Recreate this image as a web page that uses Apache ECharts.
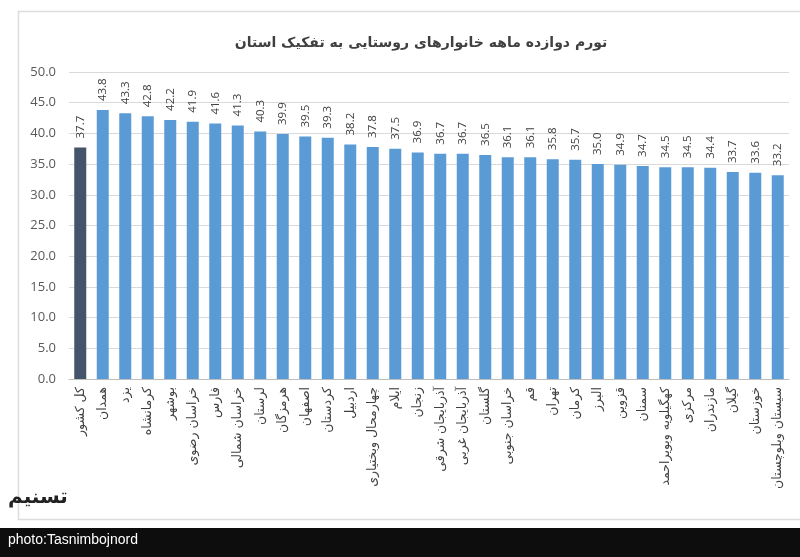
<!DOCTYPE html>
<html>
<head>
<meta charset="utf-8">
<script src="https://cdn.jsdelivr.net/npm/echarts@6/dist/echarts.min.js"></script>
<style>
html,body{margin:0;padding:0;background:#fff;}
#c{width:800px;height:557px;}
</style>
</head>
<body>
<div id="c"></div>
<script>
const titleText = 'تورم دوازده ماهه خانوارهای روستایی به تفکیک استان';
const categories = ['کل کشور','همدان','یزد','کرمانشاه','بوشهر','خراسان رضوی','فارس','خراسان شمالی','لرستان','هرمزگان','اصفهان','کردستان','اردبیل','چهارمحال وبختیاری','ایلام','زنجان','آذربایجان شرقی','آذربایجان غربی','گلستان','خراسان جنوبی','قم','تهران','کرمان','البرز','قزوین','سمنان','کهگیلویه وبویراحمد','مرکزی','مازندران','گیلان','خوزستان','سیستان وبلوچستان'];
const values = [37.7,43.8,43.3,42.8,42.2,41.9,41.6,41.3,40.3,39.9,39.5,39.3,38.2,37.8,37.5,36.9,36.7,36.7,36.5,36.1,36.1,35.8,35.7,35.0,34.9,34.7,34.5,34.5,34.4,33.7,33.6,33.2];
const yTicks = [0,5,10,15,20,25,30,35,40,45,50];

const chart = echarts.init(document.getElementById('c'), null, {renderer:'canvas'});
chart.setOption({
  backgroundColor:'#ffffff',
  animation:false,
  title:{
    text:titleText, left:416, top:31, textAlign:'center',
    textStyle:{fontFamily:'DejaVu Sans', fontSize:14, fontWeight:'bold', color:'#404040'}
  },
  grid:{left:69, right:11, top:72, bottom:178, containLabel:false},
  xAxis:{
    type:'category', data:categories,
    axisLine:{lineStyle:{color:'#bfbfbf'}},
    axisTick:{show:false},
    axisLabel:{rotate:90, interval:0, margin:8, fontFamily:'DejaVu Sans', fontSize:12.5, color:'#404040'}
  },
  yAxis:{
    type:'value', min:yTicks[0], max:yTicks[yTicks.length-1], interval:5,
    axisLine:{show:false}, axisTick:{show:false},
    splitLine:{lineStyle:{color:'#d9d9d9'}},
    axisLabel:{formatter:v=>v.toFixed(1), fontFamily:'Open Sans', fontSize:13, color:'#595959', margin:13}
  },
  series:[{
    type:'bar', data:values.map((v,i)=>({value:v, itemStyle:{color: i===0 ? '#44546A' : '#5B9BD5'}})),
    barWidth:12,
    label:{show:true, position:'top', rotate:90, align:'left', verticalAlign:'middle', distance:9,
      formatter:p=>p.value.toFixed(1), fontFamily:'Open Sans', fontSize:11.5, color:'#404040'}
  }],
  graphic:[
    {type:'rect', shape:{x:18.5, y:11.5, width:800, height:508}, style:{fill:'none', stroke:'#dcdcdc', lineWidth:1.5}, z:-1},
    {type:'rect', shape:{x:0, y:528, width:800, height:29}, style:{fill:'#0d0d0d'}},
    {type:'text', left:8, top:533, style:{text:'photo:Tasnimbojnord', fill:'#ffffff', font:'14px "Liberation Sans"'}},
    {type:'text', x:8, y:488, style:{text:'تسنیم', fill:'#222', font:'bold 20px "DejaVu Sans"'}}
  ]
});
</script>
</body>
</html>
